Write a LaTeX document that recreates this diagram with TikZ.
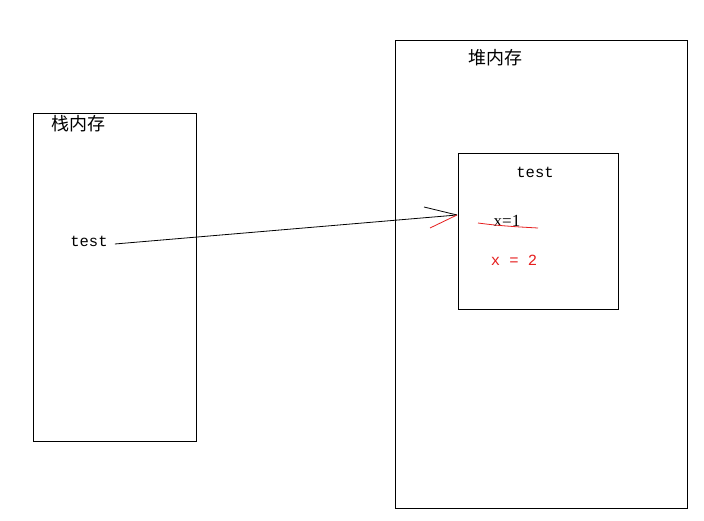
\documentclass[tikz,border=0pt]{standalone}
\usepackage{fontspec}
\setmainfont{Liberation Serif}
\newfontfamily\cjk{Noto Sans CJK SC}
\newfontfamily\mono{Liberation Mono}
\definecolor{redpen}{RGB}{230,30,30}
\begin{document}
\begin{tikzpicture}[x=1pt,y=-1pt,
  box/.style={draw,line width=0.8pt},
  cjklabel/.style={font=\cjk\fontsize{18}{20}\selectfont,inner sep=0pt},
  monolabel/.style={font=\mono\fontsize{15.5}{17}\selectfont,inner sep=0pt},
  pen/.style={line width=0.8pt}]
\useasboundingbox (0,0) rectangle (704,521);
\fill[white] (0,0) rectangle (704,521);
\draw[box] (33,113) rectangle (196,441);
\draw[box] (395,40) rectangle (687,508);
\draw[box] (458,153) rectangle (618,309);
\node[cjklabel] (stackl) at (78,124) {栈内存};
\node[cjklabel] (heapl) at (495,58) {堆内存};
\node[monolabel] (stest) at (89,241) {test};
\node[monolabel] (htest) at (535,172) {test};
\node[inner sep=0pt,font=\fontsize{17}{19}\selectfont] (x1) at (507,221) {x=1};
\node[monolabel,text=redpen] (x2) at (514,260) {x = 2};
\coordinate (tip) at (457,215);
\draw[pen] (stest.east) ++(7,3) -- (tip);
\draw[pen] (424,207) -- (tip);
\draw[pen,redpen] (430,228) -- (tip);
\draw[pen,redpen] (478,223) .. controls (500,226) and (520,227) .. (538,228);
\end{tikzpicture}
\end{document}
